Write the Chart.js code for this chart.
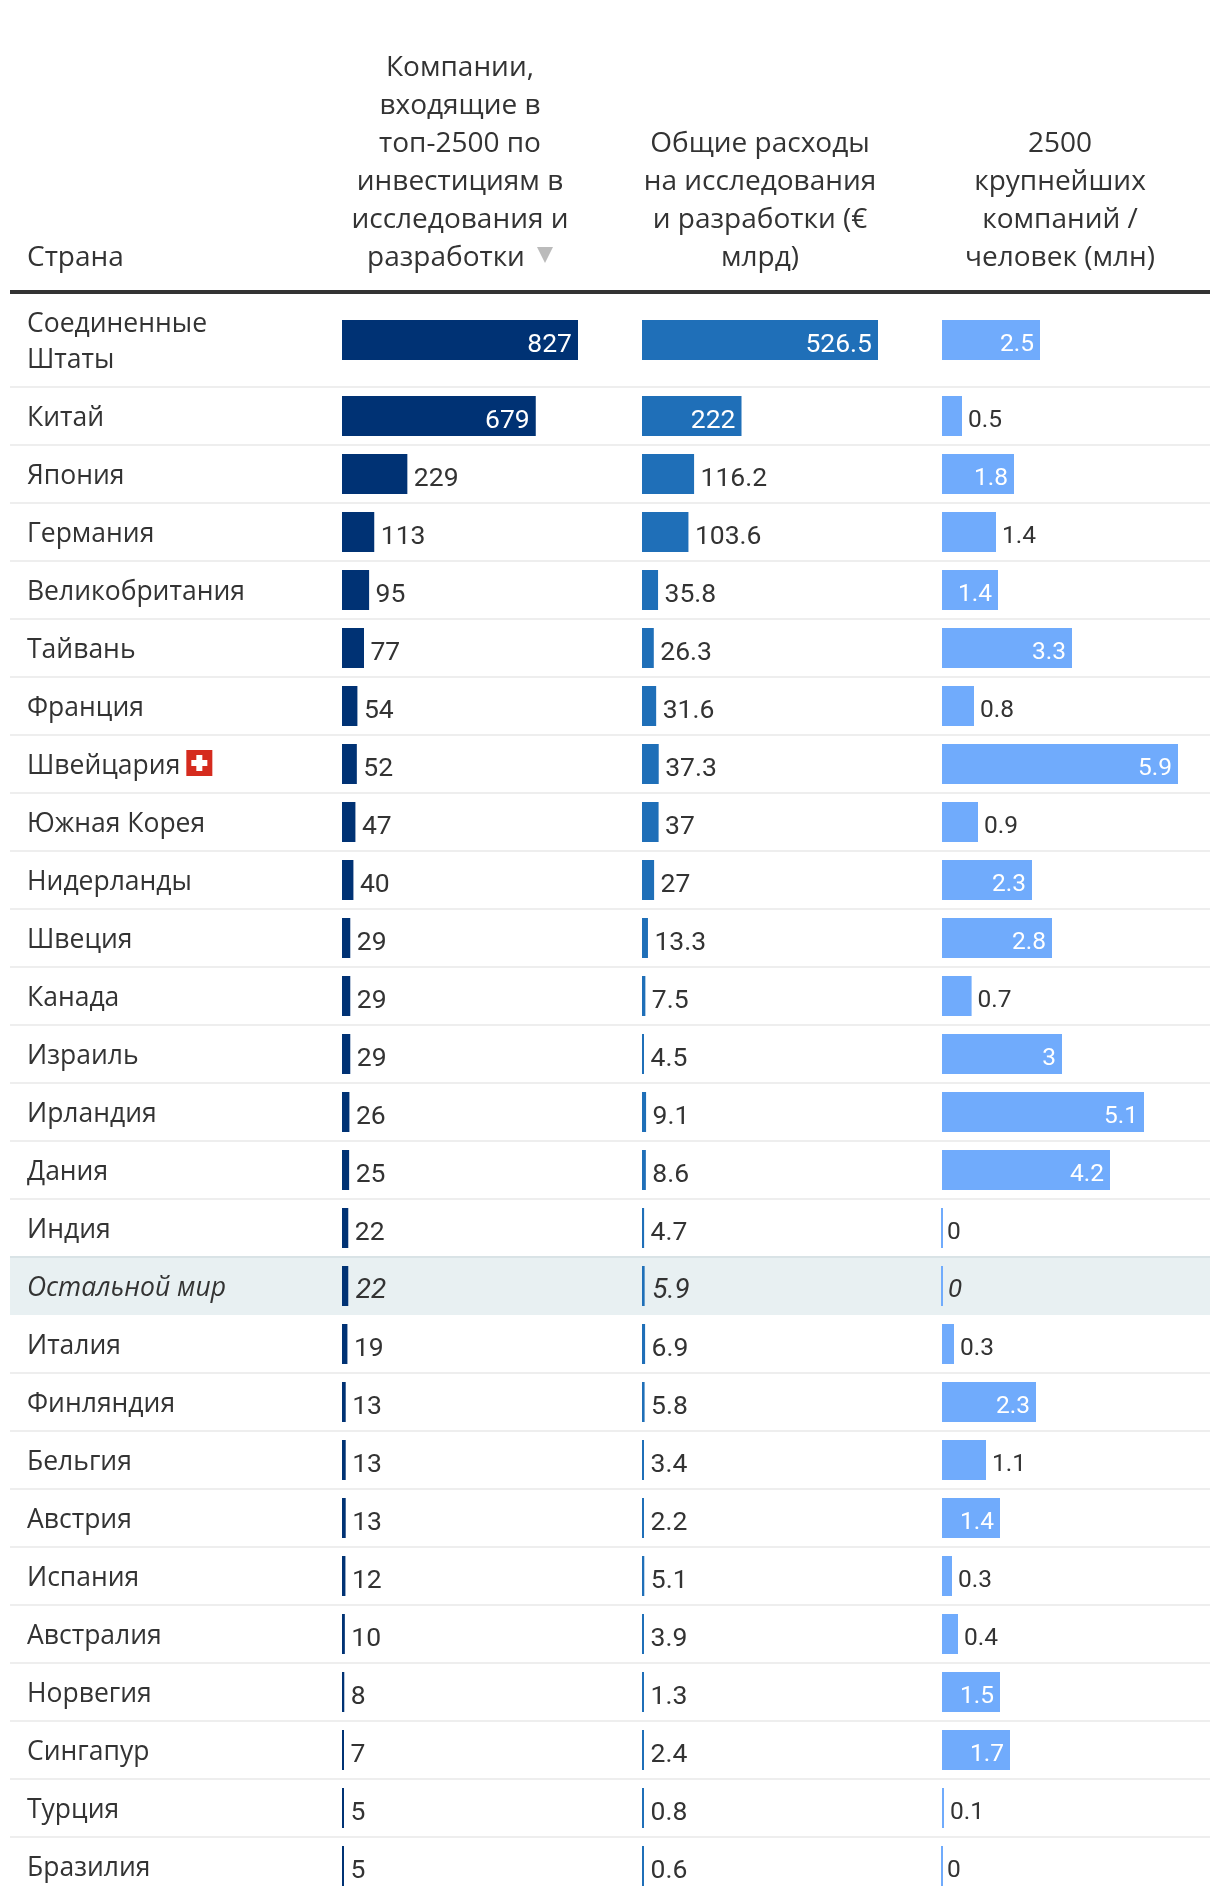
<!DOCTYPE html>
<html lang="ru">
<head>
<meta charset="utf-8">
<title>Топ-2500 компаний по инвестициям в исследования и разработки</title>
<script src="https://cdn.jsdelivr.net/npm/chart.js@4"></script>
<style>
    html, body { margin: 0; padding: 0; background: #fff; }
    #page { position: relative; width: 1220px; height: 1904px; overflow: hidden; }
    #chartCanvas { position: absolute; left: 0; top: 0; }
    .head {
        position: absolute;
        bottom: 1630px;
        font-family: "Open Sans", sans-serif;
        font-size: 28px;
        line-height: 38px;
        color: #333;
        text-align: center;
        white-space: nowrap;
    }
    #headRule { position: absolute; left: 10px; top: 290px; width: 1200px; height: 4px; background: #333; }
    .sortArrow {
        display: inline-block;
        width: 0;
        height: 0;
        margin-left: 12px;
        vertical-align: 3px;
        border-left: 8px solid transparent;
        border-right: 8px solid transparent;
        border-top: 16px solid #bbb;
    }
</style>
</head>
<body>
<div id="page">
    <canvas id="chartCanvas" width="1220" height="1904"></canvas>
    <div class="head" style="left:27px;">Страна</div>
    <div class="head" style="left:310px;width:300px;">Компании,<br>входящие в<br>топ-2500 по<br>инвестициям в<br>исследования и<br>разработки<span class="sortArrow"></span></div>
    <div class="head" style="left:610px;width:300px;">Общие расходы<br>на исследования<br>и разработки (€<br>млрд)</div>
    <div class="head" style="left:910px;width:300px;">2500<br>крупнейших<br>компаний /<br>человек (млн)</div>
    <div id="headRule"></div>
</div>
<script>
const countries = [
    ["Соединенные", "Штаты"], "Китай", "Япония", "Германия", "Великобритания", "Тайвань", "Франция",
    "Швейцария", "Южная Корея", "Нидерланды", "Швеция", "Канада", "Израиль", "Ирландия", "Дания",
    "Индия", "Остальной мир", "Италия", "Финляндия", "Бельгия", "Австрия", "Испания", "Австралия",
    "Норвегия", "Сингапур", "Турция", "Бразилия"
];
const companies = [827, 679, 229, 113, 95, 77, 54, 52, 47, 40, 29, 29, 29, 26, 25, 22, 22, 19, 13, 13, 13, 12, 10, 8, 7, 5, 5];
const spending = [526.5, 222, 116.2, 103.6, 35.8, 26.3, 31.6, 37.3, 37, 27, 13.3, 7.5, 4.5, 9.1, 8.6, 4.7, 5.9, 6.9, 5.8, 3.4, 2.2, 5.1, 3.9, 1.3, 2.4, 0.8, 0.6];
const perPerson = [2.45, 0.5, 1.8, 1.35, 1.4, 3.25, 0.8, 5.9, 0.9, 2.25, 2.75, 0.74, 3, 5.05, 4.2, 0, 0, 0.3, 2.35, 1.1, 1.45, 0.25, 0.4, 1.45, 1.7, 0.05, 0];
const perPersonLabels = ["2.5", "0.5", "1.8", "1.4", "1.4", "3.3", "0.8", "5.9", "0.9", "2.3", "2.8", "0.7", "3", "5.1", "4.2", "0", "0", "0.3", "2.3", "1.1", "1.4", "0.3", "0.4", "1.5", "1.7", "0.1", "0"];

const restIndex = countries.indexOf("Остальной мир");
const flagIndex = countries.indexOf("Швейцария");

// Page geometry, in pixels
const plotLeft = 342;
const plotRight = 1178;
const plotTop = 296;
const barSpan = 236;
const columnStep = 300;
const rowPitch = 58;
const secondRowCenter = 416;
const firstRowCenter = 340;

// Row position on the y scale: row 1 upwards is regular, the wrapped first row is taller
function rowPosition(i) {
    return i === 0 ? 1 - (secondRowCenter - firstRowCenter) / rowPitch : i;
}

/**
 * @brief Range of a hidden x scale, so its zero sits at the start of the column.
 */
function columnRange(columnIndex, maxValue) {
    const perPixel = maxValue / barSpan;
    const offset = columnIndex * columnStep;
    return { min: -offset * perPixel, max: (plotRight - plotLeft - offset) * perPixel };
}

function columnScale(columnIndex, maxValue) {
    const range = columnRange(columnIndex, maxValue);
    return { axis: 'x', type: 'linear', display: false, bounds: 'data', min: range.min, max: range.max };
}

function columnDataset(values, color, axisId, labels, fontSize, insideFrom, outsidePad) {
    return {
        data: values.map((v, i) => ({ x: v, y: rowPosition(i) })),
        xAxisID: axisId,
        yAxisID: 'y',
        backgroundColor: color,
        barThickness: 40,
        minBarLength: 2,
        grouped: false,
        inflateAmount: 0,
        valueLabels: labels,
        valueFontSize: fontSize,
        insideFrom: insideFrom,
        outsidePad: outsidePad
    };
}

// Row separators and the highlighted "rest of the world" band, under the axis labels
const rowLines = {
    id: 'rowLines',
    beforeDraw(chart) {
        const c = chart.ctx;
        const y = chart.scales.y;
        c.save();
        for (let i = 0; i < countries.length - 1; i++) {
            if (i === restIndex) continue;
            const py = Math.round(y.getPixelForValue(i + 0.5));
            c.fillStyle = i === restIndex - 1 ? '#d9e3e6' : '#eeeeee';
            c.fillRect(10, py - 1, 1200, 2);
        }
        const top = y.getPixelForValue(restIndex - 0.5);
        c.fillStyle = '#e8f0f2';
        c.fillRect(10, Math.round(top) + 1, 1200, rowPitch - 1);
        c.restore();
    }
};

// Value labels at the end of each bar, and the flag beside Switzerland
const barLabels = {
    id: 'barLabels',
    afterDatasetsDraw(chart) {
        const c = chart.ctx;
        c.save();
        c.textBaseline = 'alphabetic';
        chart.data.datasets.forEach((ds, d) => {
            chart.getDatasetMeta(d).data.forEach((bar, i) => {
                const inside = Math.abs(bar.x - bar.base) >= ds.insideFrom;
                const italic = i === restIndex;
                c.font = italic ? 'italic ' + (ds.valueFontSize + 1.5) + 'px Roboto' : ds.valueFontSize + 'px Roboto';
                c.fillStyle = inside ? '#ffffff' : '#333333';
                c.textAlign = inside ? 'right' : 'left';
                const pad = ds.outsidePad + (italic ? 1 : 0);
                c.fillText(ds.valueLabels[i], bar.x + (inside ? -6 : pad), bar.y + Math.round(ds.valueFontSize * 0.46));
            });
        });

        const y = chart.scales.y.getPixelForValue(flagIndex);
        c.font = '26.5px "Open Sans"';
        const x = 27 + c.measureText(countries[flagIndex]).width + 6;
        c.fillStyle = '#d52b1e';
        c.fillRect(x, y - 14, 26, 26);
        c.fillStyle = '#ffffff';
        c.fillRect(x + 10, y - 9, 6, 16);
        c.fillRect(x + 5, y - 4, 16, 6);
        c.restore();
    }
};

const chart = new Chart(document.getElementById("chartCanvas").getContext("2d"), {
    type: 'bar',
    data: {
        datasets: [
            columnDataset(companies, '#003274', 'xCompanies', companies.map(String), 26.5, 70, 6.5),
            columnDataset(spending, '#1f6fb8', 'xSpending', spending.map(String), 26.5, 70, 6.5),
            columnDataset(perPerson, '#70abfc', 'xPerPerson', perPersonLabels, 24.5, 55, 6)
        ]
    },
    options: {
        indexAxis: 'y',
        responsive: false,
        animation: false,
        layout: { padding: { left: 27, right: 1220 - plotRight, top: plotTop, bottom: 0 } },
        plugins: { legend: { display: false }, tooltip: { enabled: false } },
        scales: {
            xCompanies: columnScale(0, Math.max(...companies)),
            xSpending: columnScale(1, Math.max(...spending)),
            xPerPerson: columnScale(2, Math.max(...perPerson)),
            y: {
                type: 'linear',
                reverse: true,
                offset: false,
                bounds: 'data',
                min: 1 - (secondRowCenter - plotTop) / rowPitch,
                max: 1 + (1904 - secondRowCenter) / rowPitch,
                grid: { display: false, drawTicks: false },
                border: { display: false },
                afterFit: axis => {
                    axis.width = plotLeft - 27;
                    axis.paddingTop = 0;
                    axis.paddingBottom = 0;
                },
                afterBuildTicks: axis => { axis.ticks = countries.map((c, i) => ({ value: rowPosition(i) })); },
                ticks: {
                    autoSkip: false,
                    padding: 0,
                    crossAlign: 'far',
                    labelOffset: 2.5,
                    color: '#333333',
                    font: ctx => ({
                        family: '"Open Sans"',
                        size: 26.5,
                        style: ctx.index === restIndex ? 'italic' : 'normal',
                        lineHeight: '36px'
                    }),
                    callback: (value, i) => countries[i]
                }
            }
        }
    },
    plugins: [rowLines, barLabels]
});
</script>
</body>
</html>
